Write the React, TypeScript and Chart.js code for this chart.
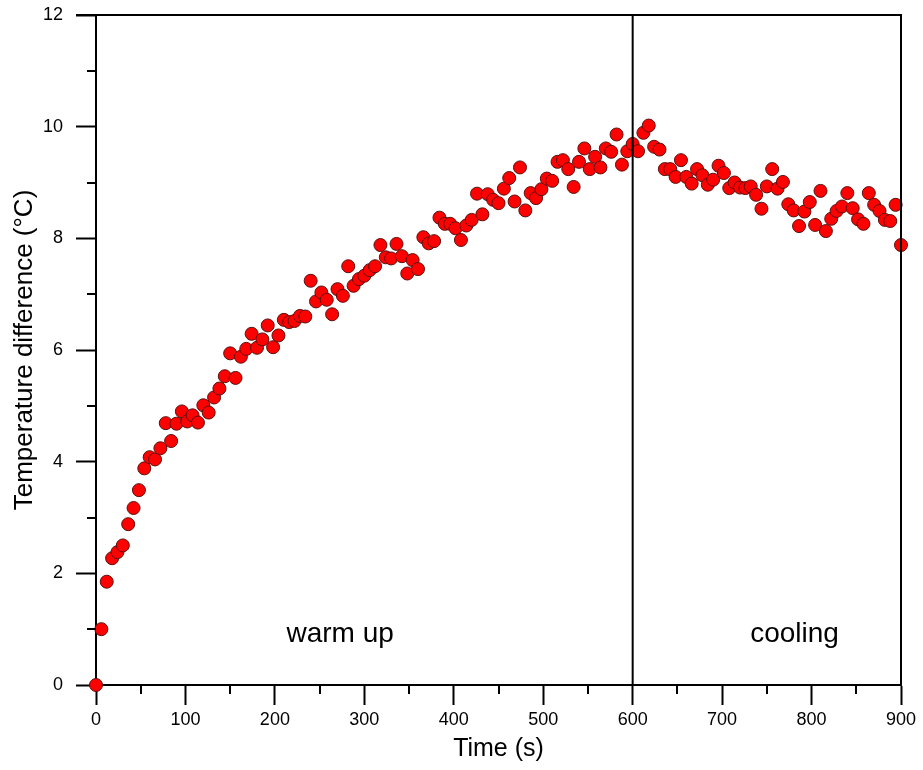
import React, { useEffect, useRef } from "react";
import { Chart, registerables } from "chart.js";

Chart.register(...registerables);

const times: number[] = [
  0, 6, 12, 18, 24, 30, 36, 42, 48, 54, 60, 66, 72, 78, 84, 90, 96, 102, 108, 114,
  120, 126, 132, 138, 144, 150, 156, 162, 168, 174, 180, 186, 192, 198, 204, 210, 216, 222, 228, 234,
  240, 246, 252, 258, 264, 270, 276, 282, 288, 294, 300, 306, 312, 318, 324, 330, 336, 342, 348, 354,
  360, 366, 372, 378, 384, 390, 396, 402, 408, 414, 420, 426, 432, 438, 444, 450, 456, 462, 468, 474,
  480, 486, 492, 498, 504, 510, 516, 522, 528, 534, 540, 546, 552, 558, 564, 570, 576, 582, 588, 594,
  600, 606, 612, 618, 624, 630, 636, 642, 648, 654, 660, 666, 672, 678, 684, 690, 696, 702, 708, 714,
  720, 726, 732, 738, 744, 750, 756, 762, 768, 774, 780, 786, 792, 798, 804, 810, 816, 822, 828, 834,
  840, 846, 852, 858, 864, 870, 876, 882, 888, 894, 900,
];

const tempDiff: number[] = [
  0, 1.0, 1.85, 2.27, 2.38, 2.5, 2.88, 3.17, 3.49, 3.88, 4.08, 4.04, 4.24, 4.69, 4.37, 4.68, 4.9, 4.72, 4.83, 4.7,
  5.01, 4.88, 5.15, 5.31, 5.53, 5.94, 5.5, 5.88, 6.02, 6.29, 6.04, 6.19, 6.44, 6.05, 6.26, 6.54, 6.5, 6.52, 6.61, 6.6,
  7.24, 6.87, 7.03, 6.9, 6.64, 7.09, 6.97, 7.5, 7.15, 7.27, 7.33, 7.43, 7.5, 7.88, 7.66, 7.64, 7.9, 7.68, 7.37, 7.61,
  7.45, 8.02, 7.91, 7.95, 8.37, 8.26, 8.26, 8.18, 7.97, 8.23, 8.33, 8.8, 8.43, 8.79, 8.69, 8.63, 8.89, 9.08, 8.66, 9.27,
  8.5, 8.81, 8.72, 8.88, 9.07, 9.03, 9.37, 9.4, 9.24, 8.92, 9.37, 9.61, 9.24, 9.46, 9.27, 9.61, 9.55, 9.86, 9.32, 9.56,
  9.69, 9.56, 9.89, 10.02, 9.64, 9.59, 9.24, 9.24, 9.1, 9.4, 9.1, 8.98, 9.24, 9.13, 8.96, 9.05, 9.3, 9.17, 8.9, 9.0,
  8.91, 8.9, 8.93, 8.78, 8.53, 8.93, 9.24, 8.89, 9.01, 8.61, 8.5, 8.22, 8.48, 8.65, 8.24, 8.85, 8.13, 8.35, 8.49, 8.57,
  8.81, 8.54, 8.34, 8.26, 8.81, 8.6, 8.49, 8.33, 8.31, 8.6, 7.88,
];

const phaseBoundary = 600;
const xMinorTicks: number[] = [50, 150, 250, 350, 450, 550, 650, 750, 850];
const yMinorTicks: number[] = [1, 3, 5, 7, 9, 11];
const phaseLabels: { text: string; x: number; y: number }[] = [
  { text: "warm up", x: 273, y: 0.9 },
  { text: "cooling", x: 781, y: 0.9 },
];

const FONT = '"Liberation Sans", Arial, Helvetica, sans-serif';

const decorPlugin = {
  id: "decor",
  afterDraw(chart: any) {
    const { ctx, chartArea, scales } = chart;
    const xs = scales.x;
    const ys = scales.y;
    ctx.save();
    ctx.strokeStyle = "#000";
    ctx.lineWidth = 2;
    ctx.beginPath();
    ctx.moveTo(chartArea.left - 20, chartArea.top);
    ctx.lineTo(chartArea.right + 1, chartArea.top);
    ctx.moveTo(chartArea.right, chartArea.top);
    ctx.lineTo(chartArea.right, chartArea.bottom);
    ctx.stroke();
    ctx.beginPath();
    for (const v of xMinorTicks) {
      const px = Math.round(xs.getPixelForValue(v));
      ctx.moveTo(px, chartArea.bottom);
      ctx.lineTo(px, chartArea.bottom + 9);
    }
    for (const v of yMinorTicks) {
      const py = Math.round(ys.getPixelForValue(v));
      ctx.moveTo(chartArea.left, py);
      ctx.lineTo(chartArea.left - 9, py);
    }
    ctx.stroke();
    ctx.fillStyle = "#000";
    ctx.font = `28px ${FONT}`;
    ctx.textAlign = "center";
    ctx.textBaseline = "middle";
    for (const l of phaseLabels) {
      ctx.fillText(l.text, xs.getPixelForValue(l.x), ys.getPixelForValue(l.y));
    }
    ctx.restore();
  },
};

export default function App() {
  const ref = useRef<HTMLCanvasElement | null>(null);
  useEffect(() => {
    if (!ref.current) return;
    const points = times.map((t, i) => ({ x: t, y: tempDiff[i] }));
    const chart = new Chart(ref.current, {
      type: "scatter",
      data: {
        datasets: [
          {
            type: "line",
            data: [
              { x: phaseBoundary, y: 0 },
              { x: phaseBoundary, y: 12 },
            ],
            borderColor: "#000",
            borderWidth: 2,
            pointRadius: 0,
            showLine: true,
            fill: false,
          } as any,
          {
            data: points,
            backgroundColor: "#ff0000",
            borderColor: "#5a1010",
            borderWidth: 1,
            pointRadius: 6.5,
            pointHoverRadius: 6.5,
            clip: false,
          } as any,
        ],
      },
      options: {
        animation: false,
        responsive: false,
        events: [],
        layout: { padding: { left: 0, top: 15, right: 22, bottom: 0 } },
        plugins: {
          legend: { display: false },
          tooltip: { enabled: false },
        },
        scales: {
          x: {
            type: "linear",
            min: 0,
            max: 900,
            afterFit: (s: any) => {
              s.height = 85;
              s.paddingLeft = 0;
              s.paddingRight = 0;
            },
            ticks: {
              stepSize: 100,
              padding: 4,
              color: "#000",
              font: { family: FONT, size: 18 },
              maxRotation: 0,
            },
            grid: {
              drawOnChartArea: false,
              drawTicks: true,
              tickLength: 20,
              tickWidth: 2,
              tickColor: "#000",
            },
            border: { display: true, color: "#000", width: 2 },
            title: {
              display: true,
              text: "Time (s)",
              color: "#000",
              font: { family: FONT, size: 25, lineHeight: 1 },
              padding: { top: 0, bottom: 8 },
            },
          },
          y: {
            type: "linear",
            min: 0,
            max: 12,
            afterFit: (s: any) => {
              s.width = 96;
              s.paddingTop = 0;
              s.paddingBottom = 0;
            },
            ticks: {
              stepSize: 2,
              padding: 13,
              color: "#000",
              font: { family: FONT, size: 18 },
            },
            grid: {
              drawOnChartArea: false,
              drawTicks: true,
              tickLength: 20,
              tickWidth: 2,
              tickColor: "#000",
            },
            border: { display: true, color: "#000", width: 2 },
            title: {
              display: true,
              text: "Temperature difference (°C)",
              color: "#000",
              font: { family: FONT, size: 26, lineHeight: 1 },
              padding: { top: 12, bottom: 0 },
            },
          },
        },
      },
      plugins: [decorPlugin],
    });
    return () => chart.destroy();
  }, []);
  return (
    <div style={{ position: "absolute", left: 0, top: 0, width: 923, height: 770, background: "#fff" }}>
      <canvas ref={ref} width={923} height={770} style={{ display: "block" }} />
    </div>
  );
}
